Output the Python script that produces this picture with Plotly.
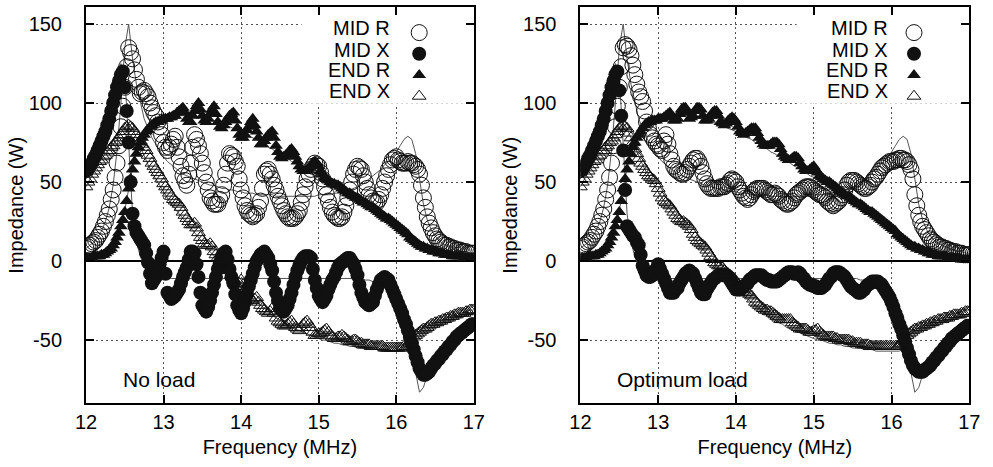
import plotly.graph_objects as go

# ---------------- data ----------------
# measured sweep (0.025 MHz steps)
FREQ = [12.000, 12.025, 12.050, 12.075, 12.100, 12.125, 12.150, 12.175, 12.200, 12.225,
        12.250, 12.275, 12.300, 12.325, 12.350, 12.375, 12.400, 12.425, 12.450, 12.475,
        12.500, 12.525, 12.550, 12.575, 12.600, 12.625, 12.650, 12.675, 12.700, 12.725,
        12.750, 12.775, 12.800, 12.825, 12.850, 12.875, 12.900, 12.925, 12.950, 12.975,
        13.000, 13.025, 13.050, 13.075, 13.100, 13.125, 13.150, 13.175, 13.200, 13.225,
        13.250, 13.275, 13.300, 13.325, 13.350, 13.375, 13.400, 13.425, 13.450, 13.475,
        13.500, 13.525, 13.550, 13.575, 13.600, 13.625, 13.650, 13.675, 13.700, 13.725,
        13.750, 13.775, 13.800, 13.825, 13.850, 13.875, 13.900, 13.925, 13.950, 13.975,
        14.000, 14.025, 14.050, 14.075, 14.100, 14.125, 14.150, 14.175, 14.200, 14.225,
        14.250, 14.275, 14.300, 14.325, 14.350, 14.375, 14.400, 14.425, 14.450, 14.475,
        14.500, 14.525, 14.550, 14.575, 14.600, 14.625, 14.650, 14.675, 14.700, 14.725,
        14.750, 14.775, 14.800, 14.825, 14.850, 14.875, 14.900, 14.925, 14.950, 14.975,
        15.000, 15.025, 15.050, 15.075, 15.100, 15.125, 15.150, 15.175, 15.200, 15.225,
        15.250, 15.275, 15.300, 15.325, 15.350, 15.375, 15.400, 15.425, 15.450, 15.475,
        15.500, 15.525, 15.550, 15.575, 15.600, 15.625, 15.650, 15.675, 15.700, 15.725,
        15.750, 15.775, 15.800, 15.825, 15.850, 15.875, 15.900, 15.925, 15.950, 15.975,
        16.000, 16.025, 16.050, 16.075, 16.100, 16.125, 16.150, 16.175, 16.200, 16.225,
        16.250, 16.275, 16.300, 16.325, 16.350, 16.375, 16.400, 16.425, 16.450, 16.475,
        16.500, 16.525, 16.550, 16.575, 16.600, 16.625, 16.650, 16.675, 16.700, 16.725,
        16.750, 16.775, 16.800, 16.825, 16.850, 16.875, 16.900, 16.925, 16.950, 16.975,
        17.000]

# --- No load (left panel), measured ---
MID_R_NOLOAD = [8, 9, 10, 11, 12, 13, 15, 17, 19, 22,
                25, 29, 33, 39, 45, 53, 62, 73, 85, 98,
                110, 123, 135, 132, 128, 121, 115, 110, 106, 107,
                108, 106, 104, 100, 97, 94, 92, 88, 85, 80,
                75, 72, 70, 72, 74, 77, 79, 72, 66, 60,
                54, 51, 48, 55, 62, 72, 80, 77, 73, 68,
                62, 56, 50, 45, 40, 38, 36, 36, 36, 39,
                42, 48, 55, 62, 68, 67, 66, 63, 60, 52,
                45, 40, 35, 32, 30, 29, 28, 29, 30, 34,
                38, 46, 55, 57, 58, 55, 52, 48, 45, 41,
                38, 35, 32, 30, 28, 27, 27, 27, 28, 30,
                32, 37, 42, 47, 52, 55, 58, 60, 62, 61,
                60, 56, 52, 47, 42, 38, 34, 31, 29, 28,
                27, 27, 28, 31, 35, 40, 45, 50, 55, 58,
                60, 59, 58, 54, 50, 46, 42, 40, 38, 37,
                37, 39, 42, 46, 50, 54, 58, 61, 64, 65,
                66, 64, 63, 62, 62, 62, 63, 62, 62, 61,
                60, 58, 55, 48, 40, 34, 28, 24, 21, 18,
                16, 14, 13, 12, 11, 10, 10, 9, 9, 8,
                8, 7, 7, 7, 6, 6, 6, 5, 5, 5,
                5]
MID_X_NOLOAD = [57, 58, 60, 62, 65, 67, 70, 73, 76, 79,
                82, 86, 90, 95, 100, 105, 110, 114, 118, 120,
                110, 95, 75, 50, 30, 22, 18, 16, 14, 12,
                10, 5, -1, -8, -14, -12, -10, -6, -2, 2,
                6, -8, -20, -22, -24, -23, -22, -20, -18, -14,
                -10, -7, -4, 1, 6, 6, 5, -2, -10, -20,
                -28, -30, -32, -29, -25, -20, -15, -10, -5, -1,
                3, 5, 6, 1, -5, -10, -14, -21, -28, -31,
                -33, -30, -26, -21, -16, -12, -8, -4, 0, 2,
                4, 5, 6, 4, 2, -2, -6, -13, -20, -25,
                -30, -31, -32, -30, -28, -24, -20, -15, -10, -6,
                -3, 0, 2, 3, 3, 3, 2, -5, -12, -17,
                -22, -24, -26, -24, -22, -18, -15, -12, -10, -7,
                -4, -2, -1, 0, 1, 2, 2, 0, -2, -5,
                -9, -15, -20, -23, -26, -27, -28, -27, -26, -22,
                -18, -15, -12, -11, -10, -11, -12, -15, -18, -21,
                -24, -27, -30, -33, -37, -40, -44, -48, -52, -56,
                -60, -64, -68, -70, -72, -72, -71, -70, -68, -66,
                -65, -63, -62, -60, -59, -57, -56, -54, -53, -51,
                -50, -48, -47, -46, -45, -44, -43, -42, -41, -40,
                -40]
END_R_NOLOAD = [2, 2, 2, 2, 3, 3, 3, 3, 4, 4,
                5, 6, 7, 8, 10, 12, 15, 18, 22, 26,
                31, 38, 46, 52, 58, 63, 68, 72, 75, 78,
                80, 82, 83, 85, 86, 87, 88, 88, 89, 89,
                90, 90, 90, 91, 91, 92, 92, 94, 95, 96,
                97, 94, 90, 88, 88, 92, 95, 98, 100, 96,
                92, 89, 88, 90, 93, 96, 98, 93, 88, 85,
                84, 86, 88, 90, 92, 93, 94, 89, 84, 80,
                78, 78, 80, 83, 85, 88, 90, 86, 82, 78,
                74, 74, 76, 78, 80, 81, 82, 78, 73, 69,
                66, 65, 66, 67, 68, 70, 71, 69, 66, 63,
                60, 58, 57, 57, 58, 59, 60, 62, 63, 62,
                60, 57, 55, 53, 52, 51, 50, 49, 49, 48,
                48, 47, 46, 45, 44, 43, 43, 42, 41, 40,
                40, 39, 38, 37, 37, 36, 35, 34, 34, 33,
                32, 31, 30, 29, 28, 27, 27, 26, 25, 24,
                23, 22, 21, 20, 19, 18, 17, 15, 14, 13,
                12, 11, 10, 9, 9, 8, 8, 7, 7, 6,
                6, 6, 5, 5, 5, 4, 4, 4, 4, 3,
                3, 3, 3, 3, 3, 2, 2, 2, 2, 2,
                2]
END_X_NOLOAD = [47, 50, 52, 55, 57, 59, 61, 63, 64, 66,
                67, 69, 70, 72, 73, 75, 76, 78, 80, 82,
                84, 85, 86, 85, 84, 82, 80, 78, 76, 74,
                72, 70, 67, 65, 62, 60, 58, 56, 54, 52,
                49, 47, 45, 43, 41, 39, 38, 37, 36, 34,
                31, 29, 27, 25, 23, 23, 24, 21, 18, 15,
                13, 11, 10, 10, 11, 9, 6, 4, 2, 0,
                -2, -1, 0, -3, -6, -9, -12, -14, -16, -14,
                -12, -15, -18, -20, -22, -24, -25, -24, -23, -26,
                -28, -30, -31, -32, -33, -32, -30, -33, -36, -38,
                -39, -40, -41, -41, -40, -39, -38, -40, -42, -43,
                -44, -42, -40, -39, -38, -40, -42, -45, -47, -47,
                -46, -46, -45, -44, -43, -45, -47, -48, -49, -49,
                -48, -48, -47, -48, -49, -50, -51, -51, -50, -50,
                -51, -52, -52, -53, -53, -53, -53, -54, -54, -54,
                -54, -54, -54, -54, -55, -55, -55, -55, -55, -55,
                -55, -55, -55, -55, -54, -54, -53, -52, -50, -48,
                -47, -46, -45, -44, -43, -43, -42, -41, -40, -40,
                -39, -39, -38, -38, -37, -37, -36, -36, -35, -35,
                -34, -34, -33, -33, -33, -33, -32, -32, -31, -31,
                -31]

# --- Optimum load (right panel), measured ---
MID_R_OPT = [8, 9, 10, 11, 12, 13, 15, 17, 19, 22,
             25, 29, 33, 39, 45, 53, 62, 73, 85, 98,
             110, 123, 135, 137, 136, 134, 130, 124, 118, 112,
             107, 104, 101, 95, 88, 84, 80, 78, 76, 74,
             73, 71, 70, 76, 80, 74, 68, 64, 60, 58,
             57, 56, 55, 55, 56, 58, 60, 62, 64, 65,
             65, 63, 60, 56, 52, 49, 47, 46, 46, 46,
             46, 46, 47, 47, 47, 48, 49, 51, 52, 51,
             50, 47, 45, 43, 41, 40, 39, 40, 42, 44,
             45, 46, 46, 46, 46, 45, 44, 43, 42, 42,
             43, 42, 41, 39, 38, 37, 36, 36, 37, 38,
             40, 42, 43, 44, 45, 46, 47, 47, 47, 46,
             45, 44, 43, 42, 42, 41, 40, 38, 37, 36,
             35, 36, 37, 38, 40, 42, 45, 48, 50, 51,
             51, 51, 50, 49, 48, 47, 46, 46, 47, 48,
             50, 52, 53, 55, 57, 59, 60, 61, 62, 63,
             63, 63, 64, 64, 65, 65, 64, 64, 63, 61,
             58, 52, 42, 35, 29, 25, 22, 20, 18, 16,
             14, 13, 12, 11, 10, 9, 9, 8, 8, 7,
             7, 6, 6, 6, 5, 5, 5, 4, 4, 4,
             4]
MID_X_OPT = [57, 58, 60, 62, 65, 67, 70, 73, 76, 79,
             82, 86, 90, 95, 100, 105, 110, 114, 118, 120,
             108, 92, 70, 45, 22, 20, 18, 16, 15, 12,
             10, 4, -3, -6, -9, -10, -10, -9, -8, -5,
             -2, -5, -8, -11, -14, -17, -20, -20, -20, -18,
             -17, -14, -12, -10, -8, -7, -6, -7, -8, -11,
             -14, -17, -20, -21, -21, -18, -16, -14, -12, -11,
             -10, -9, -9, -9, -9, -9, -10, -12, -14, -16,
             -18, -18, -18, -17, -16, -15, -14, -12, -11, -10,
             -9, -9, -9, -9, -10, -11, -12, -12, -13, -13,
             -13, -13, -12, -11, -10, -9, -8, -7, -7, -7,
             -8, -8, -7, -8, -10, -11, -13, -14, -15, -15,
             -16, -16, -17, -17, -17, -16, -15, -13, -11, -10,
             -8, -7, -7, -7, -8, -9, -10, -12, -14, -16,
             -17, -18, -19, -20, -20, -19, -18, -16, -15, -14,
             -13, -13, -13, -13, -14, -15, -17, -19, -21, -23,
             -26, -29, -33, -36, -40, -43, -47, -51, -55, -59,
             -63, -66, -68, -69, -70, -70, -70, -69, -68, -67,
             -66, -64, -63, -61, -60, -58, -57, -55, -54, -52,
             -51, -49, -48, -47, -46, -45, -44, -43, -42, -41,
             -41]
END_R_OPT = [2, 2, 2, 2, 3, 3, 3, 3, 4, 4,
             5, 6, 7, 8, 10, 12, 15, 18, 22, 26,
             31, 38, 46, 52, 58, 63, 68, 72, 75, 78,
             80, 82, 84, 86, 87, 88, 88, 89, 89, 89,
             90, 90, 90, 91, 92, 93, 94, 91, 89, 89,
             90, 93, 96, 97, 97, 94, 90, 91, 92, 95,
             97, 97, 96, 92, 89, 89, 90, 92, 94, 95,
             95, 92, 88, 87, 86, 87, 89, 90, 91, 90,
             88, 85, 82, 81, 80, 81, 82, 83, 84, 84,
             84, 81, 78, 76, 74, 73, 73, 73, 74, 75,
             75, 75, 74, 71, 68, 66, 65, 64, 64, 65,
             66, 66, 65, 62, 60, 58, 57, 57, 58, 59,
             60, 58, 56, 54, 53, 52, 51, 50, 50, 49,
             48, 47, 46, 45, 44, 43, 42, 41, 41, 40,
             39, 38, 37, 36, 36, 35, 34, 33, 32, 31,
             31, 30, 29, 28, 27, 26, 25, 24, 23, 22,
             21, 20, 19, 17, 16, 15, 14, 13, 12, 11,
             10, 9, 9, 8, 8, 7, 7, 6, 6, 5,
             5, 4, 4, 4, 3, 3, 3, 3, 3, 2,
             2, 2, 2, 2, 2, 2, 1, 1, 1, 1,
             1]
END_X_OPT = [47, 50, 52, 55, 57, 59, 61, 63, 64, 66,
             67, 69, 70, 72, 73, 75, 76, 78, 80, 82,
             84, 85, 86, 85, 84, 81, 78, 75, 71, 68,
             65, 62, 60, 58, 56, 54, 53, 52, 51, 49,
             46, 43, 40, 38, 37, 36, 35, 33, 31, 29,
             27, 26, 25, 25, 24, 23, 22, 20, 17, 15,
             13, 12, 11, 10, 9, 7, 5, 3, 1, -1,
             -2, -3, -3, -4, -6, -7, -8, -9, -10, -11,
             -13, -15, -17, -18, -19, -20, -20, -21, -22, -24,
             -26, -27, -28, -29, -30, -31, -31, -32, -32, -33,
             -34, -35, -36, -37, -37, -37, -37, -37, -37, -39,
             -40, -41, -42, -43, -43, -43, -43, -44, -45, -45,
             -44, -44, -43, -45, -46, -47, -48, -48, -48, -48,
             -48, -49, -49, -50, -50, -50, -50, -50, -50, -51,
             -51, -52, -52, -52, -52, -53, -53, -53, -53, -54,
             -54, -54, -54, -54, -54, -54, -54, -54, -54, -54,
             -54, -54, -54, -54, -53, -52, -50, -49, -47, -46,
             -45, -44, -43, -43, -42, -42, -41, -41, -40, -40,
             -39, -39, -38, -38, -37, -37, -37, -36, -36, -36,
             -35, -35, -34, -34, -34, -34, -33, -33, -32, -32,
             -32]

# --- calculated curves (thin lines, same in both panels), 0.05 MHz steps ---
FREQ_CALC = [12.00, 12.05, 12.10, 12.15, 12.20, 12.25, 12.30, 12.35, 12.40, 12.45,
             12.50, 12.55, 12.60, 12.65, 12.70, 12.75, 12.80, 12.85, 12.90, 12.95,
             13.00, 13.05, 13.10, 13.15, 13.20, 13.25, 13.30, 13.35, 13.40, 13.45,
             13.50, 13.55, 13.60, 13.65, 13.70, 13.75, 13.80, 13.85, 13.90, 13.95,
             14.00, 14.05, 14.10, 14.15, 14.20, 14.25, 14.30, 14.35, 14.40, 14.45,
             14.50, 14.55, 14.60, 14.65, 14.70, 14.75, 14.80, 14.85, 14.90, 14.95,
             15.00, 15.05, 15.10, 15.15, 15.20, 15.25, 15.30, 15.35, 15.40, 15.45,
             15.50, 15.55, 15.60, 15.65, 15.70, 15.75, 15.80, 15.85, 15.90, 15.95,
             16.00, 16.05, 16.10, 16.15, 16.20, 16.25, 16.30, 16.35, 16.40, 16.45,
             16.50, 16.55, 16.60, 16.65, 16.70, 16.75, 16.80, 16.85, 16.90, 16.95,
             17.00]
CALC_MID_R = [8, 10, 12, 15, 19, 25, 34, 48, 70, 100,
              135, 150, 128, 112, 100, 90, 84, 78, 74, 70,
              66, 63, 61, 59, 57, 55, 54, 53, 52, 51,
              50, 49, 48, 48, 47, 46, 46, 45, 45, 44,
              44, 43, 43, 43, 42, 42, 42, 42, 42, 41,
              41, 41, 41, 41, 41, 41, 41, 41, 41, 41,
              42, 42, 42, 42, 43, 43, 43, 44, 45, 46,
              47, 48, 50, 52, 54, 56, 58, 61, 63, 66,
              69, 73, 77, 79, 77, 68, 52, 36, 26, 20,
              16, 13, 11, 10, 9, 8, 7, 6, 6, 5,
              5]
CALC_MID_X = [57, 60, 65, 70, 76, 83, 92, 103, 115, 125,
              118, 70, 30, 12, 3, -3, -6, -8, -9, -10,
              -10, -10, -11, -11, -11, -11, -11, -11, -11, -11,
              -11, -11, -11, -11, -11, -11, -11, -11, -11, -11,
              -11, -11, -11, -11, -11, -11, -11, -11, -11, -11,
              -11, -11, -11, -11, -11, -11, -11, -11, -11, -11,
              -11, -11, -11, -11, -11, -11, -11, -11, -11, -11,
              -11, -11, -12, -12, -13, -14, -15, -16, -17, -19,
              -22, -28, -36, -46, -58, -72, -83, -80, -72, -66,
              -62, -59, -56, -53, -51, -49, -47, -45, -43, -42,
              -40]
CALC_END_R = [2, 2, 3, 3, 4, 5, 7, 10, 14, 21,
              32, 46, 59, 69, 76, 81, 84, 86, 88, 89,
              90, 91, 91, 92, 92, 92, 92, 92, 92, 91,
              91, 90, 90, 89, 88, 87, 86, 85, 84, 83,
              82, 81, 79, 78, 77, 75, 74, 72, 71, 69,
              68, 66, 65, 63, 62, 60, 59, 57, 56, 54,
              53, 51, 50, 48, 47, 45, 44, 42, 41, 39,
              38, 36, 35, 33, 32, 30, 28, 27, 25, 23,
              22, 20, 18, 16, 14, 12, 10, 9, 8, 7,
              6, 5, 4, 4, 3, 3, 3, 2, 2, 2,
              2]
CALC_END_X = [47, 52, 57, 61, 65, 68, 71, 74, 77, 81,
              85, 87, 84, 78, 72, 66, 61, 56, 52, 48,
              44, 40, 36, 33, 30, 27, 24, 21, 18, 15,
              12, 9, 6, 3, 0, -3, -6, -9, -12, -14,
              -17, -19, -22, -24, -26, -28, -30, -32, -34, -36,
              -37, -39, -40, -42, -43, -44, -45, -46, -47, -48,
              -49, -50, -50, -51, -52, -52, -53, -53, -54, -54,
              -55, -55, -55, -56, -56, -56, -57, -57, -57, -57,
              -57, -57, -57, -55, -50, -46, -44, -42, -41, -40,
              -39, -38, -37, -36, -35, -34, -33, -33, -32, -31,
              -31]

SERIES_NAMES = ["MID R", "MID X", "END R", "END X"]
X_TICKS = [12, 13, 14, 15, 16, 17]
Y_TICKS = [-50, 0, 50, 100, 150]
Y_TICK_TEXT = ["-50", "0", "50", "100", "150"]
PANEL_LABELS = ["No load", "Optimum load"]

for arr in [MID_R_NOLOAD, MID_X_NOLOAD, END_R_NOLOAD, END_X_NOLOAD,
            MID_R_OPT, MID_X_OPT, END_R_OPT, END_X_OPT]:
    assert len(arr) == len(FREQ), len(arr)
for arr in [CALC_MID_R, CALC_MID_X, CALC_END_R, CALC_END_X]:
    assert len(arr) == len(FREQ_CALC), len(arr)

# ---------------- styling ----------------
FONT = "Liberation Sans, Arial, Helvetica, sans-serif"
INK = "#111111"
W, H = 993, 467

MARKERS = [
    dict(symbol="circle-open", size=16, color=INK, line=dict(width=1, color=INK)),
    dict(symbol="circle", size=14, color=INK, line=dict(width=0)),
    dict(symbol="triangle-up", size=12, color=INK, line=dict(width=0)),
    dict(symbol="triangle-up-open", size=12, color=INK, line=dict(width=1, color=INK)),
]

fig = go.Figure()

panels = [
    dict(xa="x", ya="y", lg="legend",
         meas=[MID_R_NOLOAD, MID_X_NOLOAD, END_R_NOLOAD, END_X_NOLOAD]),
    dict(xa="x2", ya="y2", lg="legend2",
         meas=[MID_R_OPT, MID_X_OPT, END_R_OPT, END_X_OPT]),
]
calc = [CALC_MID_R, CALC_MID_X, CALC_END_R, CALC_END_X]

for p in panels:
    for c in calc:
        fig.add_trace(go.Scatter(x=FREQ_CALC, y=c, mode="lines", xaxis=p["xa"], yaxis=p["ya"],
                                 line=dict(color="#555555", width=1), showlegend=False,
                                 hoverinfo="skip"))
    for name, vals, mk in zip(SERIES_NAMES, p["meas"], MARKERS):
        fig.add_trace(go.Scatter(x=FREQ, y=vals, mode="markers", name="",
                                 xaxis=p["xa"], yaxis=p["ya"], legend=p["lg"],
                                 marker=mk, hovertemplate=name + ": %{y}<extra></extra>"))

def px_x(v):
    return v / W

def px_y(v):
    return 1 - v / H

x_dom = [[px_x(76.7), px_x(473.3)], [px_x(582.3), px_x(980.0)]]
y_dom = [px_y(403.3), px_y(7.3)]

common_axis = dict(
    ticks="inside", ticklen=8, tickwidth=1.5, tickcolor="black",
    showline=True, linewidth=2, linecolor="black", mirror="ticks",
    showgrid=True, gridcolor="#555555", gridwidth=1, griddash="2px,3px",
    tickfont=dict(family=FONT, size=20, color="black"),
)

for i, suffix in enumerate(["", "2"]):
    fig.layout["xaxis" + suffix] = dict(
        common_axis, domain=x_dom[i], range=[12, 17], tickvals=X_TICKS,
        anchor="y" + suffix, zeroline=False, ticklabelstandoff=0,
        title=dict(text="Frequency (MHz)", font=dict(family=FONT, size=20, color="black"),
                   standoff=8),
    )
    fig.layout["yaxis" + suffix] = dict(
        common_axis, domain=y_dom, range=[-90, 160.6], tickvals=Y_TICKS, ticktext=Y_TICK_TEXT,
        anchor="x" + suffix, zeroline=True, zerolinecolor="black", zerolinewidth=1.5,
        ticklabelstandoff=18,
        title=dict(text="Impedance (W)", font=dict(family=FONT, size=20, color="black"),
                   standoff=0),
    )

# white key box hiding the grid behind the legend
for suffix in ["", "2"]:
    fig.add_shape(type="rect", xref="x" + suffix, yref="y" + suffix,
                  x0=14.78, x1=17, y0=99.5, y1=160.6, layer="between",
                  fillcolor="white", line=dict(width=0))

# legend keys (symbols) + right-aligned key text as in the original
key_rows = [28, 50, 70, 91]
text_right = [390, 899]
sym_left = [397, 903]
legend_common = dict(bgcolor="rgba(0,0,0,0)", borderwidth=0, font=dict(family=FONT, size=14),
                     xanchor="left", yanchor="top", tracegroupgap=0, itemwidth=30)
fig.layout["legend"] = dict(legend_common, x=px_x(sym_left[0]), y=px_y(key_rows[0] - 11))
fig.layout["legend2"] = dict(legend_common, x=px_x(sym_left[1]), y=px_y(key_rows[0] - 11))

for k in range(2):
    for name, row in zip(SERIES_NAMES, key_rows):
        fig.add_annotation(xref="paper", yref="paper", x=px_x(text_right[k]), y=px_y(row),
                           text=name, showarrow=False, xanchor="right", yanchor="middle",
                           font=dict(family=FONT, size=20, color="black"))
    fig.add_annotation(xref="x" + ("" if k == 0 else "2"), yref="y" + ("" if k == 0 else "2"),
                       x=12.45, y=-75, text=PANEL_LABELS[k], showarrow=False,
                       xanchor="left", yanchor="middle",
                       font=dict(family=FONT, size=21, color="black"))

fig.update_layout(
    width=W, height=H, margin=dict(l=0, r=0, t=0, b=0),
    paper_bgcolor="white", plot_bgcolor="white",
    font=dict(family=FONT, size=20, color="black"),
)

fig.write_html("out.html")
